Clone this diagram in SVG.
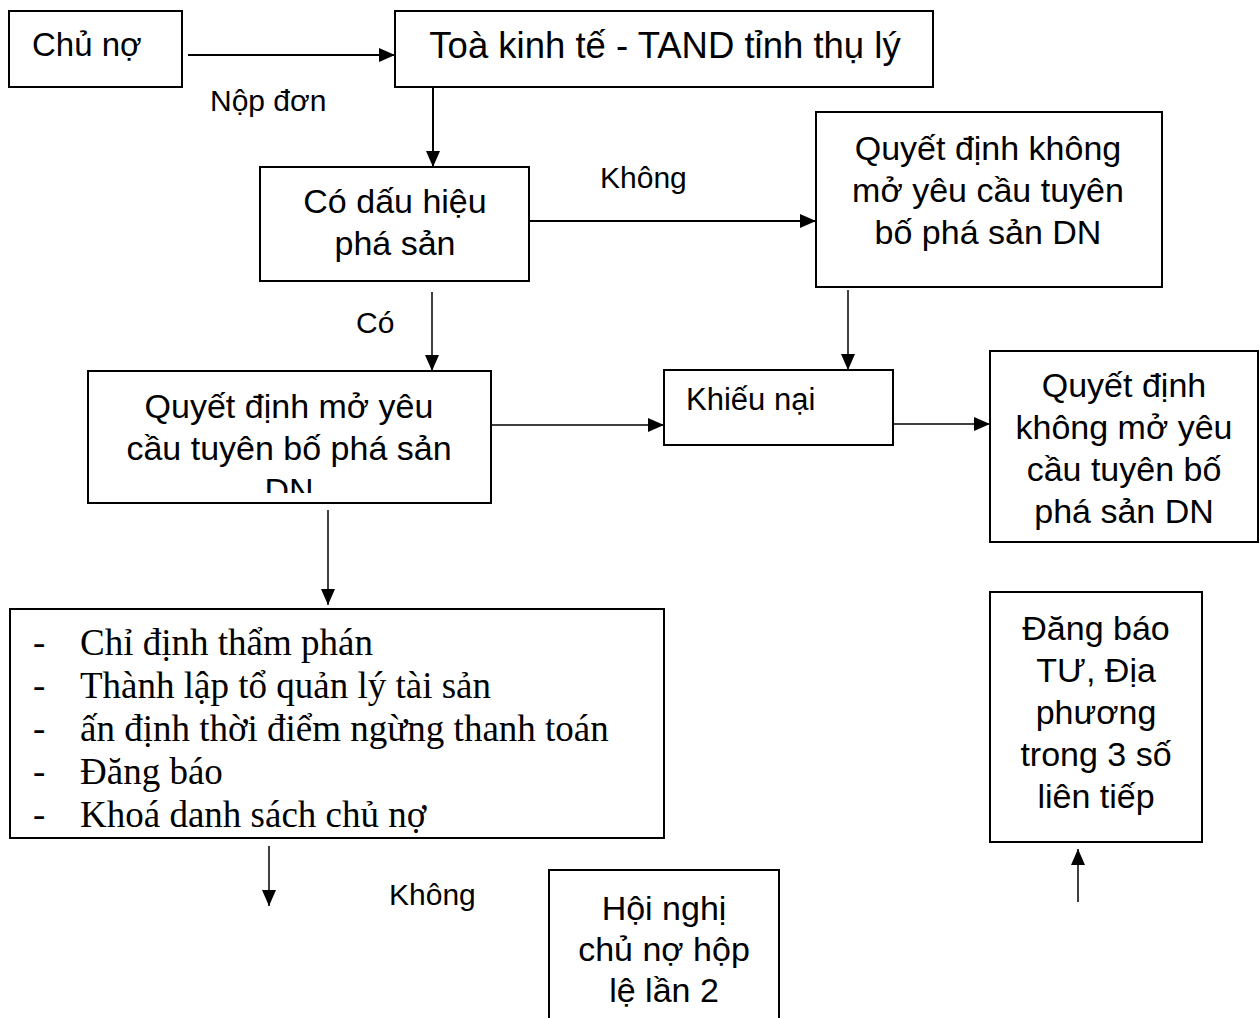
<svg xmlns="http://www.w3.org/2000/svg" width="1260" height="1018" viewBox="0 0 1260 1018">
<style>
.box{fill:#fff;stroke:#000;stroke-width:2}
.t{font-family:"Liberation Sans",Arial,sans-serif;font-size:34px;fill:#000;text-anchor:middle}
.lbl{font-family:"Liberation Sans",Arial,sans-serif;font-size:30px;fill:#000}
.tm{font-family:"Liberation Serif","Times New Roman",serif;font-size:37px;fill:#000}
.c{stroke:#000;stroke-width:2;fill:none}
</style>
<defs>
<marker id="ah" viewBox="0 0 16 14" refX="16" refY="7" markerWidth="16" markerHeight="14" markerUnits="userSpaceOnUse" orient="auto">
<path d="M0,0 L16,7 L0,14 Z" fill="#000"/>
</marker>
<clipPath id="clipQD"><rect x="88" y="371" width="403" height="122"/></clipPath>
</defs>
<rect width="1260" height="1018" fill="#fff"/>
<g id="connectors">
<line class="c" x1="188" y1="55" x2="395" y2="55" marker-end="url(#ah)"/>
<line class="c" x1="433" y1="87" x2="433" y2="167" marker-end="url(#ah)"/>
<line class="c" x1="529" y1="221" x2="816" y2="221" marker-end="url(#ah)"/>
<line class="c" x1="432" y1="292" x2="432" y2="371" marker-end="url(#ah)" style="stroke-width:1.5"/>
<line class="c" x1="848" y1="290" x2="848" y2="370" marker-end="url(#ah)" style="stroke-width:1.5"/>
<line class="c" x1="491" y1="425" x2="664" y2="425" marker-end="url(#ah)" style="stroke-width:1.5"/>
<line class="c" x1="893" y1="424" x2="990" y2="424" marker-end="url(#ah)" style="stroke-width:1.5"/>
<line class="c" x1="328" y1="510" x2="328" y2="605" marker-end="url(#ah)" style="stroke-width:1.5"/>
<line class="c" x1="269" y1="846" x2="269" y2="906" marker-end="url(#ah)" style="stroke-width:1.5"/>
<line class="c" x1="1078" y1="902" x2="1078" y2="849" marker-end="url(#ah)" style="stroke-width:1.5"/>
<text class="lbl" x="210" y="111">Nộp đơn</text>
<text class="lbl" x="600" y="188">Không</text>
<text class="lbl" x="356" y="333">Có</text>
<text class="lbl" x="389" y="905">Không</text>
</g>
<g id="chuno">
<rect class="box" x="9" y="11" width="173" height="76"/>
<text class="t" x="32" y="56" style="text-anchor:start;font-size:33px">Chủ nợ</text>
</g>
<g id="toa">
<rect class="box" x="395" y="11" width="538" height="76"/>
<text class="t" x="665" y="58" style="font-size:36.5px">Toà kinh tế - TAND tỉnh thụ lý</text>
</g>
<g id="dauhieu">
<rect class="box" x="260" y="167" width="269" height="114"/>
<text class="t" x="395" y="213">Có dấu hiệu</text>
<text class="t" x="395" y="255">phá sản</text>
</g>
<g id="qdkhong1">
<rect class="box" x="816" y="112" width="346" height="175"/>
<text class="t" x="988" y="160">Quyết định không</text>
<text class="t" x="988" y="202">mở yêu cầu tuyên</text>
<text class="t" x="988" y="244">bố phá sản DN</text>
</g>
<g id="qdmo">
<rect class="box" x="88" y="371" width="403" height="132"/>
<g clip-path="url(#clipQD)">
<text class="t" x="289" y="418">Quyết định mở yêu</text>
<text class="t" x="289" y="460">cầu tuyên bố phá sản</text>
<text class="t" x="289" y="502">DN</text>
</g>
</g>
<g id="khieunai">
<rect class="box" x="664" y="370" width="229" height="75"/>
<text class="t" x="686" y="410" style="text-anchor:start;font-size:31px">Khiếu nại</text>
</g>
<g id="qdkhong2">
<rect class="box" x="990" y="351" width="268" height="191"/>
<text class="t" x="1124" y="397">Quyết định</text>
<text class="t" x="1124" y="439">không mở yêu</text>
<text class="t" x="1124" y="481">cầu tuyên bố</text>
<text class="t" x="1124" y="523">phá sản DN</text>
</g>
<g id="danhsach">
<rect class="box" x="10" y="609" width="654" height="229"/>
<text class="tm" x="33" y="655">-</text><text class="tm" x="80" y="655">Chỉ định thẩm phán</text>
<text class="tm" x="33" y="698">-</text><text class="tm" x="80" y="698">Thành lập tổ quản lý tài sản</text>
<text class="tm" x="33" y="741">-</text><text class="tm" x="80" y="741">ấn định thời điểm ngừng thanh toán</text>
<text class="tm" x="33" y="784">-</text><text class="tm" x="80" y="784">Đăng báo</text>
<text class="tm" x="33" y="827">-</text><text class="tm" x="80" y="827">Khoá danh sách chủ nợ</text>
</g>
<g id="hoinghi">
<rect class="box" x="549" y="870" width="230" height="170"/>
<text class="t" x="664" y="920">Hội nghị</text>
<text class="t" x="664" y="961">chủ nợ hộp</text>
<text class="t" x="664" y="1002">lệ lần 2</text>
</g>
<g id="dangbao">
<rect class="box" x="990" y="592" width="212" height="250"/>
<text class="t" x="1096" y="640">Đăng báo</text>
<text class="t" x="1096" y="682">TƯ, Địa</text>
<text class="t" x="1096" y="724">phương</text>
<text class="t" x="1096" y="766">trong 3 số</text>
<text class="t" x="1096" y="808">liên tiếp</text>
</g>
</svg>
